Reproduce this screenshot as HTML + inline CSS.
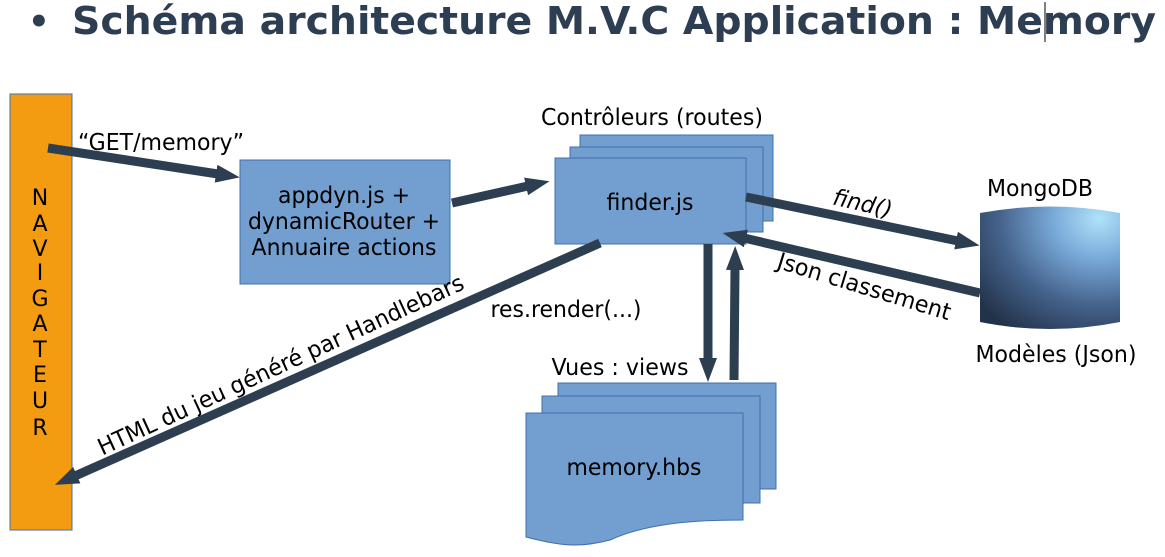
<!DOCTYPE html>
<html><head><meta charset="utf-8"><style>
html,body{margin:0;padding:0;background:#fff;width:1165px;height:557px;overflow:hidden}
svg{display:block}
text{font-family:"DejaVu Sans","Liberation Sans",sans-serif;fill:#000}
</style></head><body>
<svg width="1165" height="557" viewBox="0 0 1165 557" xmlns="http://www.w3.org/2000/svg">
<defs>
<marker id="ah" markerUnits="userSpaceOnUse" markerWidth="26" markerHeight="22" refX="2" refY="11" orient="auto">
<path d="M0,2 L24,11 L0,20 Z" fill="#2c3e50"/>
</marker>
<radialGradient id="cyl2" cx="0.85" cy="0.1" r="1.1">
<stop offset="0" stop-color="#b0e2fa"/>
<stop offset="0.3" stop-color="#79a9d8"/>
<stop offset="0.65" stop-color="#44628a"/>
<stop offset="1" stop-color="#22324a"/>
</radialGradient>
</defs>

<text x="28" y="33" font-size="34" font-weight="bold" style="fill:#2e3e52">•</text>
<text x="72" y="34" font-size="38" font-weight="bold" style="fill:#2e3e52" textLength="1084" lengthAdjust="spacingAndGlyphs">Schéma architecture M.V.C Application : Memory</text>
<line x1="1045" y1="2" x2="1045" y2="42" stroke="#000" stroke-width="1"/>

<rect x="10" y="94" width="62" height="436" fill="#f39c12" stroke="#3f6fb0" stroke-width="1"/>
<g font-size="22" text-anchor="middle">
<text x="40" y="205">N</text><text x="40" y="231">A</text><text x="40" y="256">V</text>
<text x="40" y="280">I</text><text x="40" y="306">G</text><text x="40" y="331">A</text>
<text x="40" y="357">T</text><text x="40" y="382">E</text><text x="40" y="408">U</text>
<text x="40" y="435">R</text>
</g>

<rect x="240" y="160" width="210" height="124" fill="#729fcf" stroke="#3f6fb0" stroke-width="1"/>
<g font-size="23" text-anchor="middle">
<text x="344" y="203" textLength="132" lengthAdjust="spacingAndGlyphs">appdyn.js +</text>
<text x="344" y="229" textLength="192" lengthAdjust="spacingAndGlyphs">dynamicRouter +</text>
<text x="344" y="255" textLength="185" lengthAdjust="spacingAndGlyphs">Annuaire actions</text>
</g>

<text x="652" y="125" font-size="23" text-anchor="middle" textLength="222" lengthAdjust="spacingAndGlyphs">Contrôleurs (routes)</text>
<rect x="580" y="135" width="193" height="86" fill="#729fcf" stroke="#3f6fb0"/>
<rect x="570" y="147" width="193" height="85" fill="#729fcf" stroke="#3f6fb0"/>
<rect x="555" y="158" width="191" height="86" fill="#729fcf" stroke="#3f6fb0"/>
<text x="650" y="210" font-size="23" text-anchor="middle" textLength="87" lengthAdjust="spacingAndGlyphs">finder.js</text>

<text x="1040" y="196" font-size="23" text-anchor="middle" textLength="106" lengthAdjust="spacingAndGlyphs">MongoDB</text>
<path d="M980,213 Q1050,200 1120,213 L1120,322 Q1050,336 980,322 Z" fill="url(#cyl2)"/>
<text x="1056" y="362" font-size="23" text-anchor="middle" textLength="161" lengthAdjust="spacingAndGlyphs">Modèles (Json)</text>

<text x="620" y="375" font-size="23" text-anchor="middle" textLength="137" lengthAdjust="spacingAndGlyphs">Vues : views</text>
<rect x="558" y="383" width="218" height="106" fill="#729fcf" stroke="#3f6fb0"/>
<rect x="542" y="396" width="218" height="107" fill="#729fcf" stroke="#3f6fb0"/>
<path d="M526,413 L743,413 L743,520 C700,520 650,522 610,540 C580,548 560,546 526,537 Z" fill="#729fcf" stroke="#3f6fb0"/>
<text x="634" y="475" font-size="23" text-anchor="middle" textLength="135" lengthAdjust="spacingAndGlyphs">memory.hbs</text>

<g stroke="#2c3e50" stroke-width="9" fill="none">
<line x1="48" y1="148" x2="218" y2="174" marker-end="url(#ah)"/>
<line x1="452" y1="203" x2="528" y2="186" marker-end="url(#ah)"/>
<line x1="746" y1="197" x2="958" y2="241" marker-end="url(#ah)"/>
<line x1="980" y1="293" x2="744" y2="238" marker-end="url(#ah)"/>
<line x1="708" y1="244" x2="708" y2="360" marker-end="url(#ah)"/>
<line x1="734" y1="380" x2="735" y2="268" marker-end="url(#ah)"/>
<line x1="600" y1="243" x2="75" y2="476" marker-end="url(#ah)"/>
</g>

<text x="161" y="150" font-size="23" text-anchor="middle" textLength="166" lengthAdjust="spacingAndGlyphs">“GET/memory”</text>
<text x="566" y="317" font-size="23" text-anchor="middle" textLength="151" lengthAdjust="spacingAndGlyphs">res.render(...)</text>
<text x="0" y="0" font-size="23" font-style="italic" text-anchor="middle" textLength="60" lengthAdjust="spacingAndGlyphs" transform="translate(861,211) rotate(13)">find()</text>
<text x="0" y="0" font-size="23" text-anchor="middle" textLength="180" lengthAdjust="spacingAndGlyphs" transform="translate(862,294) rotate(17)">Json classement</text>
<text x="0" y="0" font-size="23" text-anchor="middle" textLength="400" lengthAdjust="spacingAndGlyphs" transform="translate(284,372) rotate(-24.7)">HTML du jeu généré par Handlebars</text>
</svg>
</body></html>
